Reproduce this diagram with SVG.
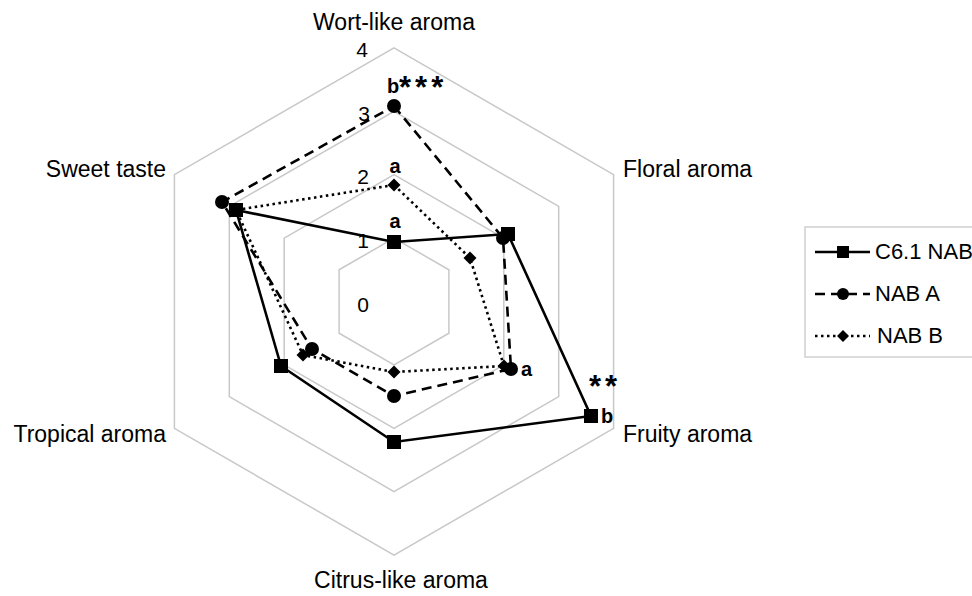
<svg xmlns="http://www.w3.org/2000/svg" xmlns:xlink="http://www.w3.org/1999/xlink" width="972" height="596" viewBox="0 0 972 596">
<style>
text{font-family:"Liberation Sans",Arial,sans-serif;fill:#000}
.cat{font-size:23px}
.tick{font-size:21px}
.sig{font-size:20px;font-weight:bold}
.ast{font-size:31px;font-weight:bold;letter-spacing:4px}
.leg{font-size:22px}
.grid{fill:none;stroke:#c8c8c8;stroke-width:1.5}
.s1{fill:none;stroke:#000;stroke-width:2.6}
.s2{fill:none;stroke:#000;stroke-width:2.6;stroke-dasharray:10 6}
.s3{fill:none;stroke:#000;stroke-width:2.6;stroke-dasharray:2.5 3.5}
</style>
<defs>
<rect id="sq" x="-7" y="-7" width="14" height="14" fill="#000"/>
<circle id="ci" r="7" fill="#000"/>
<polygon id="di" points="0,-6.5 6.5,0 0,6.5 -6.5,0" fill="#000"/>
</defs>
<rect width="972" height="596" fill="#fff"/>
<g id="grid">
<polygon class="grid" points="394,238.1 448.9,269.8 448.9,333.2 394,364.9 339.1,333.2 339.1,269.8"/>
<polygon class="grid" points="394,174.7 503.8,238.1 503.8,364.9 394,428.3 284.2,364.9 284.2,238.1"/>
<polygon class="grid" points="394,111.3 558.7,206.4 558.7,396.6 394,491.7 229.3,396.6 229.3,206.4"/>
<polygon class="grid" points="394,47.9 613.6,174.7 613.6,428.3 394,555.1 174.4,428.3 174.4,174.7"/>
</g>
<g id="ticks" text-anchor="middle">
<text class="tick" x="362" y="57">4</text>
<text class="tick" x="364" y="121">3</text>
<text class="tick" x="363" y="184">2</text>
<text class="tick" x="363" y="248">1</text>
<text class="tick" x="363" y="312">0</text>
</g>
<g id="categories">
<text class="cat" x="394" y="30" text-anchor="middle">Wort-like aroma</text>
<text class="cat" x="623" y="177">Floral aroma</text>
<text class="cat" x="623" y="442">Fruity aroma</text>
<text class="cat" x="401" y="588" text-anchor="middle">Citrus-like aroma</text>
<text class="cat" x="166" y="442" text-anchor="end">Tropical aroma</text>
<text class="cat" x="166" y="177" text-anchor="end">Sweet taste</text>
</g>
<g id="connectors">
<g id="series-nab-b">
<polygon class="s3" points="394,185 470,258 504,366 394,372 303,355 236,210"/>
<use xlink:href="#di" x="394" y="185"/>
<use xlink:href="#di" x="470" y="258"/>
<use xlink:href="#di" x="504" y="366"/>
<use xlink:href="#di" x="394" y="372"/>
<use xlink:href="#di" x="303" y="355"/>
<use xlink:href="#di" x="236" y="210"/>
</g>
<g id="series-nab-a">
<polygon class="s2" points="394,106 503,238 511,369 394,396 312,349 222,202"/>
<use xlink:href="#ci" x="394" y="106"/>
<use xlink:href="#ci" x="503" y="238"/>
<use xlink:href="#ci" x="511" y="369"/>
<use xlink:href="#ci" x="394" y="396"/>
<use xlink:href="#ci" x="312" y="349"/>
<use xlink:href="#ci" x="222" y="202"/>
</g>
<g id="series-c61">
<polygon class="s1" points="394,242 508,234 591,416 394,442 281,366 236,210"/>
<use xlink:href="#sq" x="394" y="242"/>
<use xlink:href="#sq" x="508" y="234"/>
<use xlink:href="#sq" x="591" y="416"/>
<use xlink:href="#sq" x="394" y="442"/>
<use xlink:href="#sq" x="281" y="366"/>
<use xlink:href="#sq" x="236" y="210"/>
</g>
</g>
<g id="significance">
<text class="sig" x="393" y="93" text-anchor="middle">b</text>
<text class="ast" x="399" y="98">***</text>
<text class="sig" x="395" y="173" text-anchor="middle">a</text>
<text class="sig" x="395" y="228" text-anchor="middle">a</text>
<text class="sig" x="521" y="376">a</text>
<text class="sig" x="601" y="423">b</text>
<text class="ast" x="589" y="397">**</text>
</g>
<g id="legend">
<rect x="805" y="227" width="200" height="130" fill="#fff" stroke="#d0d0d0" stroke-width="1.5"/>
<line class="s1" x1="815" y1="252" x2="870" y2="252"/>
<rect x="837" y="246" width="12" height="12" fill="#000"/>
<text class="leg" x="875" y="259">C6.1 NAB</text>
<line class="s2" x1="815" y1="294" x2="870" y2="294" stroke-dasharray="7 5"/>
<circle cx="843" cy="294" r="6" fill="#000"/>
<text class="leg" x="875" y="301">NAB A</text>
<line class="s3" x1="815" y1="336" x2="870" y2="336" stroke-width="2" stroke-dasharray="2 3"/>
<polygon points="843,330 849,336 843,342 837,336" fill="#000"/>
<text class="leg" x="877" y="343">NAB B</text>
</g>
</svg>
